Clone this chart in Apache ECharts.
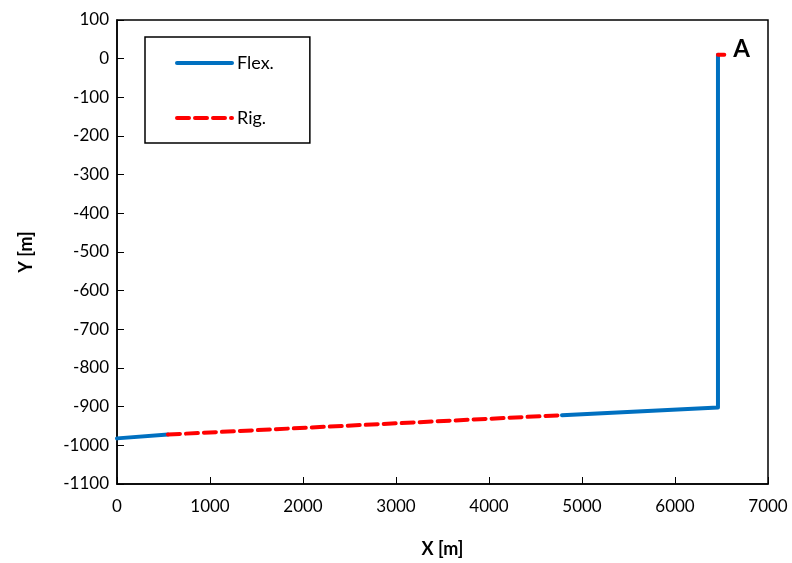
<!DOCTYPE html>
<html lang="en">
    <head>
        <meta charset="UTF-8" />
        <script src="https://cdn.jsdelivr.net/npm/echarts@6.0.0/dist/echarts.min.js"></script>
        <title>Flex vs Rig</title>
        <style>
            body { margin: 0; background: #fff; }
            #main { width: 792px; height: 563px; }
        </style>
    </head>
    <body>
        <div id="main"></div>
        <script type="text/javascript">
            // path pieces, x/y in metres
            var flexPoints = [[0, -982], [548, -972], "-", [4785, -922], [6462, -902], [6462, 10]];
            var rigPoints = [[548, -972], [4785, -922], "-", [6462, 10], [6530, 10]];
            var xTicks = [0, 7000, 1000];
            var yTicks = [-1100, 100, 100];

            var font = "Lato";
            var chart = echarts.init(document.getElementById("main"));

            var option = {
                animation: false,
                textStyle: { fontFamily: font },
                grid: {
                    left: 117, right: 24, top: 20, bottom: 79,
                    outerBoundsMode: "none",
                    show: true, borderColor: "#000", borderWidth: 1.5,
                },
                legend: {
                    orient: "vertical",
                    left: 145, top: 37,
                    padding: [17, 36, 16, 30],
                    itemWidth: 55, itemHeight: 14, itemGap: 37,
                    borderColor: "#000", borderWidth: 1.5,
                    itemStyle: { opacity: 0 },
                    lineStyle: { width: 4 },
                    textStyle: { fontFamily: font, fontSize: 18, color: "#000" },
                    data: ["Flex.", "Rig."],
                },
                xAxis: {
                    type: "value",
                    min: xTicks[0], max: xTicks[1], interval: xTicks[2],
                    name: "X [m]", nameLocation: "middle", nameGap: 56,
                    nameTextStyle: { fontFamily: font, fontSize: 18, fontWeight: "bold", color: "#000" },
                    axisLine: { onZero: false, lineStyle: { color: "#000", width: 1.5 } },
                    axisTick: { inside: true, length: 7, lineStyle: { color: "#000" } },
                    axisLabel: { fontSize: 17, color: "#000", margin: 14, formatter: function (v) { return String(v); } },
                    splitLine: { show: false },
                },
                yAxis: {
                    type: "value",
                    min: yTicks[0], max: yTicks[1], interval: yTicks[2],
                    name: "Y [m]", nameLocation: "middle", nameGap: 82,
                    nameTextStyle: { fontFamily: font, fontSize: 18, fontWeight: "bold", color: "#000" },
                    axisLine: { onZero: false, lineStyle: { color: "#000", width: 1.5 } },
                    axisTick: { inside: true, length: 7, lineStyle: { color: "#000" } },
                    axisLabel: { fontSize: 17, color: "#000", margin: 8, formatter: function (v) { return String(v); } },
                    splitLine: { show: false },
                },
                series: [
                    {
                        name: "Flex.",
                        type: "line",
                        data: flexPoints,
                        showSymbol: false, symbol: "none",
                        itemStyle: { color: "#0070C0" },
                        lineStyle: { color: "#0070C0", width: 4, cap: "round", join: "round" },
                        z: 2,
                    },
                    {
                        name: "Rig.",
                        type: "line",
                        data: rigPoints,
                        showSymbol: false, symbol: "none",
                        itemStyle: { color: "#FF0000" },
                        lineStyle: { color: "#FF0000", width: 4, type: [12, 6], cap: "round" },
                        markPoint: {
                            symbol: "circle", symbolSize: 0,
                            data: [{
                                coord: rigPoints[rigPoints.length - 1],
                                label: {
                                    show: true,
                                    formatter: "A",
                                    position: "right",
                                    distance: 9,
                                    offset: [0, -6],
                                    fontFamily: font,
                                    fontWeight: "bold",
                                    fontSize: 24,
                                    color: "#000",
                                },
                            }],
                        },
                        z: 3,
                    },
                ],
            };
            chart.setOption(option);
        </script>
    </body>
</html>
